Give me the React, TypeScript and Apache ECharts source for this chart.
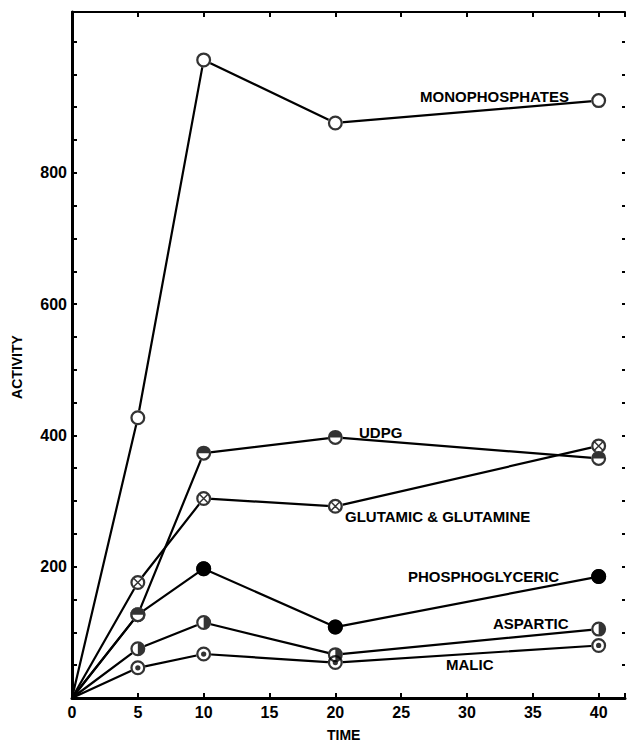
import React, { useEffect, useRef } from "react";
import * as echarts from "echarts";

const times = [0, 5, 10, 20, 40];
const monophosphates = [0, 427, 972, 876, 910];
const udpg = [0, 127, 373, 397, 365];
const glutamic = [0, 176, 304, 292, 384];
const phosphoglyceric = [0, 127, 197, 108, 185];
const aspartic = [0, 75, 115, 66, 105];
const malic = [0, 46, 67, 54, 80];

const yTickLabels = [200, 400, 600, 800];
const xTickLabels = [0, 5, 10, 15, 20, 25, 30, 35, 40];

const labels = [
  { text: "MONOPHOSPHATES", x: 420, y: 97 },
  { text: "UDPG", x: 359, y: 433 },
  { text: "GLUTAMIC & GLUTAMINE", x: 345, y: 517 },
  { text: "PHOSPHOGLYCERIC", x: 408, y: 577 },
  { text: "ASPARTIC", x: 493, y: 624 },
  { text: "MALIC", x: 446, y: 665 },
];

const RING =
  "M0,10 A10,10 0 1,1 20,10 A10,10 0 1,1 0,10 Z M3,10 A7,7 0 1,0 17,10 A7,7 0 1,0 3,10 Z";
const SYM_OPEN = "path://" + RING;
const SYM_TOP = "path://" + RING + " M2.5,10 A7.5,7.5 0 0,1 17.5,10 Z";
const SYM_RIGHT = "path://" + RING + " M10,2.5 A7.5,7.5 0 0,1 10,17.5 Z";
const SYM_DOT = "path://" + RING + " M6.5,10 A3.5,3.5 0 1,1 13.5,10 A3.5,3.5 0 1,1 6.5,10 Z";
const SYM_X =
  "path://" +
  RING +
  " M4.3,5.7 L5.7,4.3 L15.7,14.3 L14.3,15.7 Z M14.3,4.3 L15.7,5.7 L5.7,15.7 L4.3,14.3 Z";

const FONT = "Liberation Sans";

export default function App() {
  const ref = useRef<HTMLDivElement>(null);
  useEffect(() => {
    if (!ref.current) return;
    const chart = echarts.init(ref.current, null, { renderer: "svg" });
    const SIZE = 15;
    const mk = (name: string, vals: number[], sym: string, filled: boolean, zb: number) => {
      const line = {
        type: "line",
        name,
        z: zb,
        data: times.map((t, i) =>
          i === 0 ? { value: [t, vals[i]], symbol: "none" } : { value: [t, vals[i]] }
        ),
        symbol: "circle",
        symbolSize: SIZE,
        itemStyle: { color: filled ? "#000" : "#fff", borderWidth: 0 },
        lineStyle: { color: "#000", width: 2.2 },
      };
      const over = {
        type: "scatter",
        name: name + "-sym",
        z: zb + 1,
        data: times.slice(1).map((t, i) => [t, vals[i + 1]]),
        symbol: filled ? "circle" : sym,
        symbolSize: SIZE,
        itemStyle: { color: "#000" },
      };
      return [line, over];
    };
    const series = [
      ...mk("Monophosphates", monophosphates, SYM_OPEN, false, 2),
      ...mk("Phosphoglyceric", phosphoglyceric, "", true, 2),
      ...mk("Glutamic", glutamic, SYM_X, false, 2),
      ...mk("Aspartic", aspartic, SYM_RIGHT, false, 2),
      ...mk("Malic", malic, SYM_DOT, false, 2),
      ...mk("UDPG", udpg, SYM_TOP, false, 4),
    ];
    const axisFont = { fontFamily: FONT, fontWeight: "bold", fontSize: 16, color: "#000" };
    chart.setOption({
      animation: false,
      backgroundColor: "#fff",
      grid: { left: 72, right: 2, top: 12, bottom: 49 },
      xAxis: [
        {
          type: "value",
          min: 0,
          max: 42,
          interval: 5,
          position: "bottom",
          splitLine: { show: false },
          axisLine: { onZero: false, lineStyle: { color: "#000", width: 3 } },
          axisTick: { inside: true, length: 5, lineStyle: { color: "#000", width: 2 } },
          axisLabel: {
            ...axisFont,
            margin: 6,
            formatter: (v: number) => (xTickLabels.includes(v) ? String(v) : ""),
          },
        },
        {
          type: "value",
          min: 0,
          max: 42,
          interval: 5,
          position: "top",
          splitLine: { show: false },
          axisLine: { onZero: false, lineStyle: { color: "#000", width: 2 } },
          axisTick: { inside: true, length: 5, lineStyle: { color: "#000", width: 2 } },
          axisLabel: { show: false },
        },
      ],
      yAxis: [
        {
          type: "value",
          min: 0,
          max: 1045,
          interval: 50,
          position: "left",
          splitLine: { show: false },
          axisLine: { show: true, onZero: false, lineStyle: { color: "#000", width: 3 } },
          axisTick: { show: true, inside: true, length: 5, lineStyle: { color: "#000", width: 2 } },
          axisLabel: {
            ...axisFont,
            margin: 5,
            formatter: (v: number) => (yTickLabels.includes(v) ? String(v) : ""),
          },
        },
        {
          type: "value",
          min: 0,
          max: 1045,
          interval: 50,
          position: "right",
          splitLine: { show: false },
          axisLine: { show: false, onZero: false },
          axisTick: { show: true, inside: true, length: 3, lineStyle: { color: "#000", width: 2 } },
          axisLabel: { show: false },
        },
      ],
      series,
      graphic: [
        ...labels.map((l) => ({
          type: "text",
          left: l.x,
          top: l.y - 8,
          style: {
            text: l.text,
            fontFamily: FONT,
            fontWeight: "bold",
            fontSize: 15,
            fill: "#000",
          },
        })),
        {
          type: "text",
          left: 327,
          top: 728,
          style: { text: "TIME", fontFamily: FONT, fontWeight: "bold", fontSize: 14, fill: "#000" },
        },
        {
          type: "text",
          x: 17,
          y: 367,
          rotation: Math.PI / 2,
          style: {
            text: "ACTIVITY",
            fontFamily: FONT,
            fontWeight: "bold",
            fontSize: 14,
            fill: "#000",
            align: "center",
            verticalAlign: "middle",
          },
        },
      ],
    });
    return () => chart.dispose();
  }, []);
  return <div ref={ref} style={{ width: 628, height: 747, position: "absolute", left: 0, top: 0 }} />;
}
